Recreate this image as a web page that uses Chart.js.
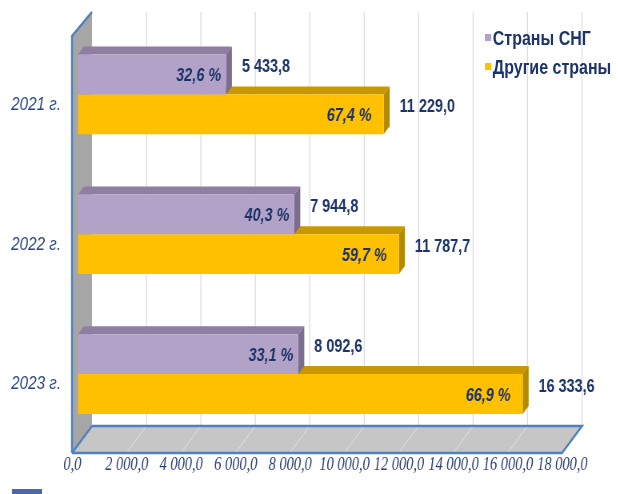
<!DOCTYPE html>
<html>
<head>
<meta charset="utf-8">
<script src="https://cdn.jsdelivr.net/npm/chart.js@4"></script>
<style>
    html, body { margin: 0; padding: 0; background: #fff; overflow: hidden; }
    #frame { position: relative; width: 618px; height: 494px; overflow: hidden; }
    /* the source picture is squeezed sideways, so the whole chart is drawn wider and scaled back */
    #wrap { position: absolute; left: 0; top: 0; width: 772px; height: 494px; transform: scaleX(0.8); transform-origin: 0 0; }
    #legend { position: absolute; left: 606px; top: 24px; margin: 0; padding: 0; list-style: none;
              font: bold 20px "Liberation Sans", Arial, sans-serif; color: #1c3468; }
    #legend li { height: 29px; line-height: 29px; white-space: nowrap; }
    .color-box { display: inline-block; width: 8px; height: 7px; margin-right: 2px; vertical-align: middle; position: relative; top: -2px; }
    #marker { position: absolute; left: 12px; top: 489px; width: 30px; height: 6px; background: #4a6aa5; }
</style>
</head>
<body>
<div id="frame">
    <div id="wrap">
        <canvas id="barChart"></canvas>
        <ul id="legend"></ul>
    </div>
    <div id="marker"></div>
</div>
<script>
// chart data
const years = ['2021 г.', '2022 г.', '2023 г.'];
const seriesNames = ['Страны СНГ', 'Другие страны'];
const cisValues = [5433.8, 7944.8, 8092.6];
const otherValues = [11229.0, 11787.7, 16333.6];
const axisMax = 18000;
const axisStep = 2000;

const colors = ['#b3a2c7', '#ffc000'];
const topColors = ['#8e7ea2', '#c89800'];
const sideColors = ['#7c6c90', '#b58a00'];
const textColor = '#1c3468';

// "16 333,6"
function fmt(v) {
    const parts = Number(v).toFixed(1).split('.');
    return parts[0].replace(/\B(?=(\d{3})+(?!\d))/g, ' ') + ',' + parts[1];
}

function pct(i, di) {
    const total = cisValues[i] + otherValues[i];
    const v = (di === 0 ? cisValues[i] : otherValues[i]) / total * 100;
    return v.toFixed(1).replace('.', ',') + ' %';
}

// 3d look
const depthX = 7.5, depthY = 8;
const backDX = 17.5, frontDX = -7.5;
const wallTop = 12, wallFrontTop = 36, floorBack = 426, floorFront = 453;

function poly(ctx, pts, fill) {
    ctx.beginPath();
    ctx.moveTo(pts[0][0], pts[0][1]);
    for (let i = 1; i < pts.length; i++) ctx.lineTo(pts[i][0], pts[i][1]);
    ctx.closePath();
    ctx.fillStyle = fill;
    ctx.fill();
}

const scenePlugin = {
    id: 'scene',
    beforeDatasetsDraw(chart) {
        const ctx = chart.ctx;
        const xs = chart.scales.x;
        const p0 = xs.getPixelForValue(0);
        const p1 = xs.getPixelForValue(axisMax);
        ctx.save();

        // back wall grid
        ctx.strokeStyle = '#d9d9d9';
        ctx.lineWidth = 1.2;
        xs.ticks.forEach(t => {
            if (t.value === 0) return;
            const px = xs.getPixelForValue(t.value) + backDX;
            ctx.beginPath();
            ctx.moveTo(px, wallTop);
            ctx.lineTo(px, floorBack);
            ctx.stroke();
        });

        // floor
        poly(ctx, [[p0 + backDX, floorBack], [p1 + backDX, floorBack], [p1 + frontDX, floorFront], [p0 + frontDX, floorFront]], '#c6c6c6');
        ctx.strokeStyle = '#e4e4e4';
        ctx.lineWidth = 1;
        xs.ticks.forEach(t => {
            const px = xs.getPixelForValue(t.value);
            ctx.beginPath();
            ctx.moveTo(px + backDX, floorBack);
            ctx.lineTo(px + frontDX, floorFront);
            ctx.stroke();
        });
        ctx.strokeStyle = '#4f81bd';
        ctx.lineWidth = 2.5;
        ctx.beginPath();
        ctx.moveTo(p0 + backDX, floorBack);
        ctx.lineTo(p1 + backDX, floorBack);
        ctx.lineTo(p1 + frontDX, floorFront);
        ctx.lineTo(p0 + frontDX, floorFront);
        ctx.stroke();

        // left wall
        poly(ctx, [[p0 + frontDX, wallFrontTop], [p0 + backDX, wallTop], [p0 + backDX, floorBack], [p0 + frontDX, floorFront]], '#a6a6a6');
        ctx.beginPath();
        ctx.moveTo(p0 + frontDX, floorFront);
        ctx.lineTo(p0 + frontDX, wallFrontTop);
        ctx.lineTo(p0 + backDX, wallTop);
        ctx.stroke();
        ctx.beginPath();
        ctx.moveTo(p0 + frontDX, floorFront);
        ctx.lineTo(p0 + backDX, floorBack);
        ctx.stroke();

        // bar tops and sides, lower series first
        [1, 0].forEach(di => {
            chart.getDatasetMeta(di).data.forEach(el => {
                const p = el.getProps(['x', 'y', 'base', 'height'], true);
                const top = p.y - p.height / 2;
                poly(ctx, [[p.base, top], [p.base + depthX, top - depthY], [p.x + depthX, top - depthY], [p.x, top]], topColors[di]);
                poly(ctx, [[p.x, top], [p.x + depthX, top - depthY], [p.x + depthX, top + p.height - depthY], [p.x, top + p.height]], sideColors[di]);
            });
        });
        ctx.restore();
    },
    afterDatasetsDraw(chart) {
        const ctx = chart.ctx;
        ctx.save();
        ctx.fillStyle = textColor;
        ctx.textBaseline = 'middle';
        [0, 1].forEach(di => {
            const values = di === 0 ? cisValues : otherValues;
            chart.getDatasetMeta(di).data.forEach((el, i) => {
                const p = el.getProps(['x', 'y'], true);
                ctx.font = 'bold 18px "Liberation Sans", Arial, sans-serif';
                ctx.textAlign = 'left';
                ctx.fillText(fmt(values[i]), p.x + 20, p.y - 7);
                ctx.font = 'italic bold 18px "Liberation Sans", Arial, sans-serif';
                ctx.textAlign = 'right';
                ctx.fillText(pct(i, di), p.x - (di === 0 ? 6 : 15), p.y + 2);
            });
        });
        ctx.restore();
    }
};

const el = document.getElementById('barChart');
el.width = 772;
el.height = 494;
el.style.width = '772px';
el.style.height = '494px';

new Chart(el, {
    type: 'bar',
    data: {
        labels: years,
        datasets: [
            { label: seriesNames[0], data: cisValues, backgroundColor: colors[0], borderWidth: 0 },
            { label: seriesNames[1], data: otherValues, backgroundColor: colors[1], borderWidth: 0 }
        ]
    },
    options: {
        indexAxis: 'y',
        responsive: false,
        devicePixelRatio: 1,
        animation: false,
        layout: { padding: { top: 24.5, right: 62, bottom: 0, left: 14 } },
        datasets: { bar: { categoryPercentage: 0.57, barPercentage: 1 } },
        plugins: { legend: { display: false }, tooltip: { enabled: false } },
        scales: {
            x: {
                min: 0,
                max: axisMax,
                grid: { display: false, drawTicks: false, tickLength: 0 },
                border: { display: false },
                ticks: {
                    stepSize: axisStep,
                    autoSkip: false,
                    maxRotation: 0,
                    labelOffset: -7,
                    padding: 10,
                    color: '#2a3f73',
                    font: { family: '"Liberation Serif", "Times New Roman", serif', style: 'italic', size: 18 },
                    callback: v => fmt(v)
                },
                afterFit(s) { s.height = 50; }
            },
            y: {
                grid: { display: false, drawTicks: false, tickLength: 0 },
                border: { display: false },
                ticks: {
                    labelOffset: 10,
                    padding: 0,
                    crossAlign: 'far',
                    color: '#2b4686',
                    font: { family: '"Liberation Sans", Arial, sans-serif', style: 'italic', size: 19 }
                },
                afterFit(s) { s.width = 83.5; }
            }
        }
    },
    plugins: [scenePlugin]
});

// custom legend
const legendContainer = document.getElementById('legend');
seriesNames.forEach((name, i) => {
    const li = document.createElement('li');
    li.innerHTML = `<span class="color-box" style="background:${colors[i]}"></span>${name}`;
    legendContainer.appendChild(li);
});
</script>
</body>
</html>
